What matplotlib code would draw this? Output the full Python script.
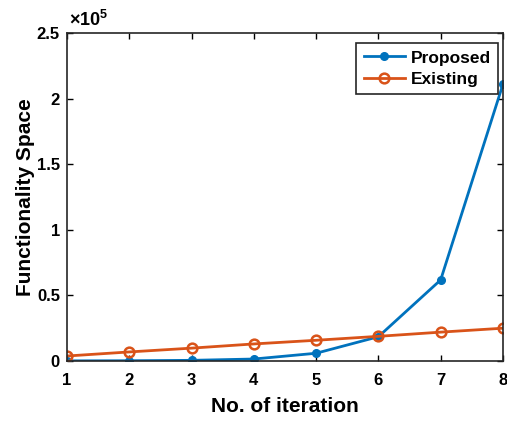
import matplotlib
matplotlib.use("Agg")
import matplotlib.pyplot as plt
from matplotlib.ticker import FuncFormatter

iterations = [1, 2, 3, 4, 5, 6, 7, 8]
proposed = [100, 200, 500, 1500, 5900, 18500, 61800, 211000]
existing = [3800, 6900, 9800, 13000, 15800, 18800, 22000, 25000]
xticks = [1, 2, 3, 4, 5, 6, 7, 8]
yticks = [0, 0.5e5, 1e5, 1.5e5, 2e5, 2.5e5]

plt.rcParams['font.family'] = ['Liberation Sans', 'DejaVu Sans']
plt.rcParams['font.weight'] = 'bold'
plt.rcParams['mathtext.fontset'] = 'custom'
plt.rcParams['mathtext.rm'] = 'Liberation Sans:bold'
plt.rcParams['mathtext.default'] = 'rm'

fig = plt.figure(figsize=(5.07, 4.24), dpi=100)
ax = fig.add_axes([0.132, 0.1486, 0.860, 0.7734])

ax.plot(iterations, proposed, '-', color='#0072BD', lw=2, marker='.', ms=11, label='Proposed')
ax.plot(iterations, existing, '-', color='#D95319', lw=2, marker='o', ms=7, mfc='none', mew=1.8, label='Existing')

ax.set_xlim(1, 8)
ax.set_ylim(0, 2.5e5)
ax.set_xticks(xticks)
ax.set_yticks(yticks)
ax.yaxis.set_major_formatter(FuncFormatter(lambda v, p: '%g' % (v / 1e5)))
ax.text(0.005, 1.008, r'$\times10^{5}$', transform=ax.transAxes, fontsize=13,
        ha='left', va='bottom', fontweight='bold')

ax.tick_params(direction='in', length=4, width=1, labelsize=12, top=True, right=True)
ax.tick_params(axis='x', pad=9)
ax.tick_params(axis='y', pad=5)
for lab in ax.get_xticklabels() + ax.get_yticklabels():
    lab.set_fontweight('bold')
for s in ax.spines.values():
    s.set_linewidth(1.2)
    s.set_color('#262626')

ax.set_xlabel('No. of iteration', fontsize=15, fontweight='bold', labelpad=6)
ax.set_ylabel('Functionality Space', fontsize=15, fontweight='bold', labelpad=1)

leg = ax.legend(loc='upper right', fontsize=12.5, frameon=True, fancybox=False,
                edgecolor='#262626', framealpha=1, borderpad=0.42, handlelength=2.4,
                handletextpad=0.3, labelspacing=0.35, borderaxespad=0,
                bbox_to_anchor=(0.9885, 0.9695))
leg.get_frame().set_linewidth(1.2)
for t in leg.get_texts():
    t.set_fontweight('bold')

fig.savefig('out.png', dpi=100)
